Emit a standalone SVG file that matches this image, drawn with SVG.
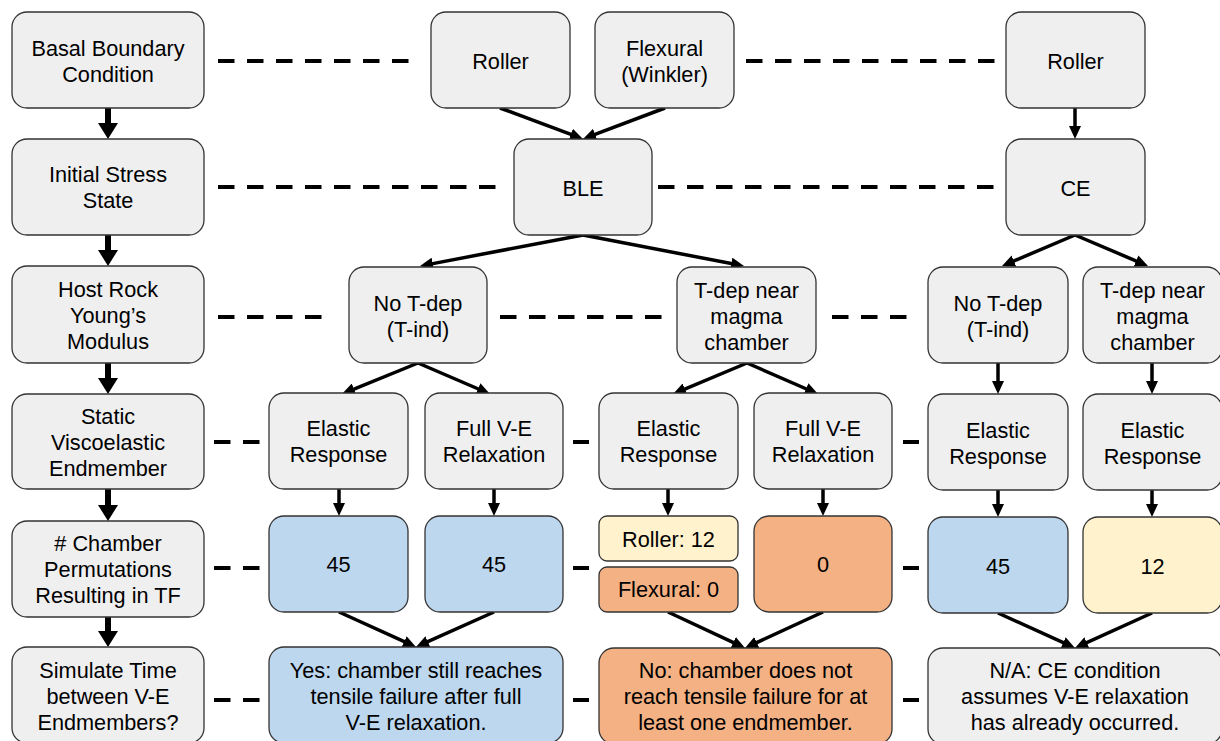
<svg xmlns="http://www.w3.org/2000/svg" width="1220" height="741" viewBox="0 0 1220 741">
<style>
.b{stroke:#333;stroke-width:1.3}
.g{fill:#efefef}.bl{fill:#bdd7ee}.y{fill:#fff2cc}.o{fill:#f4b183}
text{font-family:"Liberation Sans",Arial,sans-serif;font-size:21.7px;fill:#000;text-anchor:middle}
.d{stroke:#000;stroke-width:4;stroke-dasharray:16.5 12.5;fill:none}
.a{stroke:#000;stroke-width:3.5;fill:none;marker-end:url(#ah)}
.t{stroke:#000;stroke-width:6;fill:none;marker-end:url(#th)}
</style>
<defs>
<marker id="ah" viewBox="0 0 13 12" refX="8" refY="6" markerWidth="13" markerHeight="12" markerUnits="userSpaceOnUse" orient="auto"><path d="M0,0L13,6L0,12z" fill="#000"/></marker>
<marker id="th" viewBox="0 0 16 20" refX="10" refY="10" markerWidth="16" markerHeight="20" markerUnits="userSpaceOnUse" orient="auto"><path d="M0,0L16,10L0,20z" fill="#000"/></marker>
</defs>
<rect width="1220" height="741" fill="#fff"/>
<g id="connectors">
<path class="d" d="M218,61H410M746,61H996"/>
<path class="d" d="M218,187H498M658,187H996"/>
<path class="d" d="M218,317H323M500,317H663M832,317H908"/>
<path class="d" d="M214,442H261M573,442H589M903,442H919"/>
<path class="d" d="M214,568H261M573,568H589M903,568H919"/>
<path class="d" d="M214,700H261M573,700H589M903,700H919"/>
<path class="t" d="M108,108V133"/>
<path class="t" d="M108,235V260"/>
<path class="t" d="M108,363V388"/>
<path class="t" d="M108,489V515"/>
<path class="t" d="M108,617V641"/>
<path class="a" d="M500,108L578.3,137.2"/>
<path class="a" d="M665,108L587.7,137.2"/>
<path class="a" d="M1075,108V134"/>
<path class="a" d="M583,235L424.9,265.1"/>
<path class="a" d="M583,235L739.1,265.05"/>
<path class="a" d="M1075,235L1006.6,264.05"/>
<path class="a" d="M1075,235L1143.4,264.05"/>
<path class="a" d="M418,363L346.6,392.1"/>
<path class="a" d="M418,363L485.4,392"/>
<path class="a" d="M747,363L677.6,392.1"/>
<path class="a" d="M747,363L813.4,392"/>
<path class="a" d="M998,363V389"/>
<path class="a" d="M1152,363V389"/>
<path class="a" d="M339,489V511"/>
<path class="a" d="M494,489V511"/>
<path class="a" d="M668,489V511"/>
<path class="a" d="M823,489V511"/>
<path class="a" d="M998,489V512"/>
<path class="a" d="M1152,489V512"/>
<path class="a" d="M339,612L411.45,644.9"/>
<path class="a" d="M494,612L420.56,644.95"/>
<path class="a" d="M668,612L740.47,645.88"/>
<path class="a" d="M823,612L749.54,645.9"/>
<path class="a" d="M998,613L1070.45,645.93"/>
<path class="a" d="M1152,613L1079.55,645.93"/>
</g>
<g id="basal"><rect class="b g" x="12" y="12" width="192" height="96" rx="15"/><text x="108" y="56">Basal Boundary</text><text x="108" y="82">Condition</text></g>
<g id="initial"><rect class="b g" x="12" y="139" width="192" height="96" rx="15"/><text x="108" y="182">Initial Stress</text><text x="108" y="208">State</text></g>
<g id="host"><rect class="b g" x="12" y="266" width="192" height="97" rx="15"/><text x="108" y="297">Host Rock</text><text x="108" y="323">Young’s</text><text x="108" y="349">Modulus</text></g>
<g id="static"><rect class="b g" x="12" y="394" width="192" height="95" rx="15"/><text x="108" y="424">Static</text><text x="108" y="450">Viscoelastic</text><text x="108" y="476">Endmember</text></g>
<g id="chamber"><rect class="b g" x="12" y="521" width="192" height="96" rx="15"/><text x="108" y="551"># Chamber</text><text x="108" y="577">Permutations</text><text x="108" y="603">Resulting in TF</text></g>
<g id="simulate"><rect class="b g" x="12" y="647" width="192" height="96" rx="15"/><text x="108" y="678">Simulate Time</text><text x="108" y="704">between V-E</text><text x="108" y="730">Endmembers?</text></g>
<g id="roller1"><rect class="b g" x="431" y="12" width="139" height="96" rx="15"/><text x="500.5" y="69">Roller</text></g>
<g id="flexural"><rect class="b g" x="595" y="12" width="139" height="96" rx="15"/><text x="664.5" y="56">Flexural</text><text x="664.5" y="82">(Winkler)</text></g>
<g id="roller2"><rect class="b g" x="1006" y="12" width="139" height="96" rx="15"/><text x="1075.5" y="69">Roller</text></g>
<g id="ble"><rect class="b g" x="514" y="139" width="138" height="96" rx="15"/><text x="583" y="196">BLE</text></g>
<g id="ce"><rect class="b g" x="1006" y="139" width="139" height="96" rx="15"/><text x="1075.5" y="196">CE</text></g>
<g id="notdep1"><rect class="b g" x="349" y="267" width="138" height="96" rx="15"/><text x="418" y="311">No T-dep</text><text x="418" y="337">(T-ind)</text></g>
<g id="tdep1"><rect class="b g" x="677" y="267" width="139" height="96" rx="15"/><text x="746.5" y="298">T-dep near</text><text x="746.5" y="324">magma</text><text x="746.5" y="350">chamber</text></g>
<g id="notdep2"><rect class="b g" x="928" y="267" width="140" height="96" rx="15"/><text x="998" y="311">No T-dep</text><text x="998" y="337">(T-ind)</text></g>
<g id="tdep2"><rect class="b g" x="1083" y="267" width="139" height="96" rx="15"/><text x="1152.5" y="298">T-dep near</text><text x="1152.5" y="324">magma</text><text x="1152.5" y="350">chamber</text></g>
<g id="elastic1"><rect class="b g" x="269" y="393" width="139" height="96" rx="15"/><text x="338.5" y="436">Elastic</text><text x="338.5" y="462">Response</text></g>
<g id="fullve1"><rect class="b g" x="425" y="393" width="138" height="96" rx="15"/><text x="494" y="436">Full V-E</text><text x="494" y="462">Relaxation</text></g>
<g id="elastic2"><rect class="b g" x="599" y="393" width="139" height="96" rx="15"/><text x="668.5" y="436">Elastic</text><text x="668.5" y="462">Response</text></g>
<g id="fullve2"><rect class="b g" x="754" y="393" width="138" height="96" rx="15"/><text x="823" y="436">Full V-E</text><text x="823" y="462">Relaxation</text></g>
<g id="elastic3"><rect class="b g" x="928" y="394" width="140" height="96" rx="15"/><text x="998" y="438">Elastic</text><text x="998" y="464">Response</text></g>
<g id="elastic4"><rect class="b g" x="1083" y="394" width="139" height="96" rx="15"/><text x="1152.5" y="438">Elastic</text><text x="1152.5" y="464">Response</text></g>
<g id="n45a"><rect class="b bl" x="269" y="516" width="139" height="96" rx="15"/><text x="338.5" y="572">45</text></g>
<g id="n45b"><rect class="b bl" x="425" y="516" width="138" height="96" rx="15"/><text x="494" y="572">45</text></g>
<g id="roller12"><rect class="b y" x="599" y="516" width="139" height="45" rx="8"/><text x="668.5" y="547">Roller: 12</text></g>
<g id="flex0"><rect class="b o" x="599" y="567" width="139" height="45" rx="8"/><text x="668.5" y="597">Flexural: 0</text></g>
<g id="n0"><rect class="b o" x="754" y="516" width="138" height="96" rx="15"/><text x="823" y="572">0</text></g>
<g id="n45c"><rect class="b bl" x="928" y="517" width="140" height="96" rx="15"/><text x="998" y="574">45</text></g>
<g id="n12"><rect class="b y" x="1083" y="517" width="139" height="96" rx="15"/><text x="1152.5" y="574">12</text></g>
<g id="yes"><rect class="b bl" x="269" y="647" width="294" height="96" rx="15"/><text x="416" y="678">Yes: chamber still reaches</text><text x="416" y="704">tensile failure after full</text><text x="416" y="730">V-E relaxation.</text></g>
<g id="no"><rect class="b o" x="599" y="648" width="293" height="96" rx="15"/><text x="745.5" y="678">No: chamber does not</text><text x="745.5" y="704">reach tensile failure for at</text><text x="745.5" y="730">least one endmember.</text></g>
<g id="na"><rect class="b g" x="928" y="648" width="294" height="96" rx="15"/><text x="1075" y="678">N/A: CE condition</text><text x="1075" y="704">assumes V-E relaxation</text><text x="1075" y="730">has already occurred.</text></g>
</svg>
